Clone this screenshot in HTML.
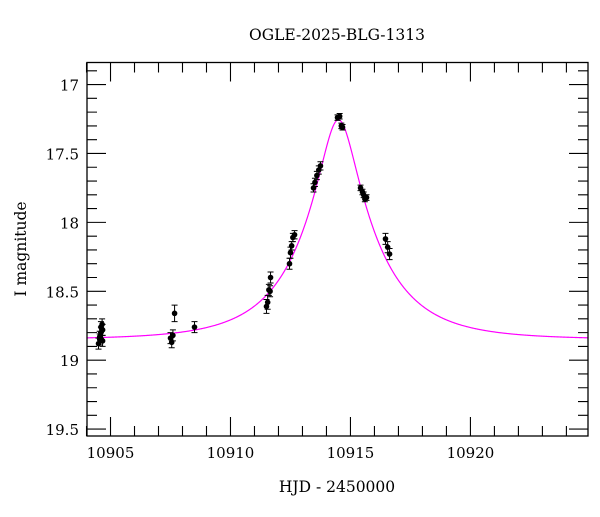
<!DOCTYPE html>
<html><head><meta charset="utf-8"><style>
body{margin:0;background:#fff}
svg text{font-family:"DejaVu Serif","Liberation Serif",serif;fill:#000}
</style></head><body>
<svg id="chart" width="600" height="512" xmlns="http://www.w3.org/2000/svg">
<text x="337" y="40" text-anchor="middle" font-size="15.5">OGLE-2025-BLG-1313</text>
<text x="337" y="492" text-anchor="middle" font-size="15.5">HJD - 2450000</text>
<text transform="translate(26,249) rotate(-90)" text-anchor="middle" font-size="15.5">I magnitude</text>
<g id="ticks"></g>
<path id="model" fill="none" stroke="#ff00ff" stroke-width="1.2"/>
<g id="pts"></g>
<rect x="87" y="62.5" width="501" height="373.5" fill="none" stroke="#000" stroke-width="1.3"/>
</svg>
<script>
const obsT=[10904.5,10904.55,10904.6,10904.6,10904.65,10904.67,10904.55,10904.67,10907.5,10907.55,10907.6,10907.67,10908.5,10911.5,10911.55,10911.6,10911.65,10911.67,10912.46,10912.5,10912.55,10912.6,10912.67,10913.46,10913.52,10913.6,10913.68,10913.75,10914.46,10914.55,10914.62,10914.67,10915.42,10915.5,10915.55,10915.6,10915.67,10916.46,10916.55,10916.63];
const obsMag=[18.88,18.85,18.80,18.76,18.74,18.78,18.83,18.86,18.84,18.87,18.82,18.66,18.76,18.61,18.58,18.49,18.50,18.40,18.30,18.22,18.17,18.11,18.09,17.75,17.71,17.66,17.62,17.59,17.24,17.23,17.30,17.31,17.75,17.78,17.80,17.83,17.82,18.12,18.18,18.23];
const obsErr=[0.04,0.04,0.04,0.04,0.04,0.04,0.04,0.04,0.04,0.04,0.04,0.06,0.04,0.05,0.05,0.04,0.04,0.04,0.04,0.04,0.03,0.03,0.03,0.03,0.03,0.03,0.03,0.03,0.02,0.02,0.02,0.02,0.02,0.02,0.02,0.02,0.02,0.04,0.04,0.04];
const xTicks=[10905,10910,10915,10920];
const yTicks=[17,17.5,18,18.5,19,19.5];
const modelParams=[10914.5,0.235,3.1,18.85]; // t0,u0,tE,baseline
const X0=87,X1=588,Y0=62.5,Y1=436;
const xmin=10904.02,xmax=10924.9,ymin=16.84,ymax=19.55;
const sx=t=>X0+(t-xmin)/(xmax-xmin)*(X1-X0);
const sy=m=>Y0+(m-ymin)/(ymax-ymin)*(Y1-Y0);
const NS="http://www.w3.org/2000/svg";
function mk(tag,attrs,parent){const e=document.createElementNS(NS,tag);for(const k in attrs)e.setAttribute(k,attrs[k]);parent.appendChild(e);return e;}
const tg=document.getElementById('ticks');
let d='';
for(let t=10904;t<=10924;t++){const x=sx(t);const L=(t%5===0)?19:10;d+=`M${x},${Y0}v${L}M${x},${Y1}v${-L}`;}
for(let i=169;i<=195;i++){const m=i/10;const y=sy(m);const L=(i%5===0)?19:10;d+=`M${X0},${y}h${L}M${X1},${y}h${-L}`;}
const tp=mk('path',{d:d,stroke:'#000','stroke-width':1.1,fill:'none'},tg);


xTicks.forEach(t=>{const e=mk('text',{x:sx(t),y:Y1+22,'text-anchor':'middle','font-size':15},tg);e.textContent=t;

});
yTicks.forEach(m=>{const e=mk('text',{x:X0-8,y:sy(m)+6,'text-anchor':'end','font-size':15},tg);e.textContent=String(m);

});
const [t0,u0,tE,base]=modelParams;
let md='';
for(let t=xmin;t<=xmax;t+=0.02){const tau=(t-t0)/tE;const u=Math.sqrt(u0*u0+tau*tau);const A=(u*u+2)/(u*Math.sqrt(u*u+4));const m=base-2.5*Math.log10(A);md+=(md?'L':'M')+sx(t).toFixed(2)+','+sy(m).toFixed(2);}
document.getElementById('model').setAttribute('d',md);
const pg=document.getElementById('pts');
obsT.forEach((t,i)=>{const x=sx(t),y=sy(obsMag[i]),ya=sy(obsMag[i]-obsErr[i]),yb=sy(obsMag[i]+obsErr[i]);
const eb=mk('path',{d:`M${x},${ya}V${yb}M${x-3},${ya}h6M${x-3},${yb}h6`,stroke:'#000','stroke-width':1,fill:'none'},pg);


const c=mk('circle',{cx:x,cy:y,r:2.8,fill:'#000'},pg);

});
</script>
</body></html>
